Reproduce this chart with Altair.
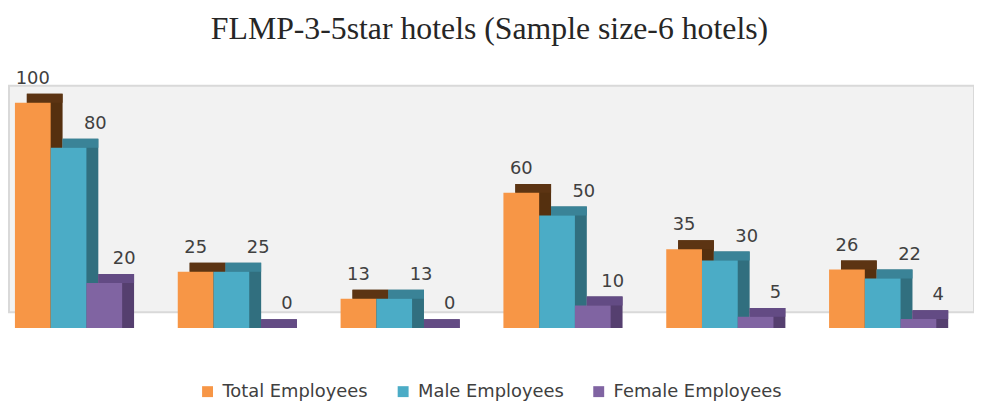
import altair as alt
import pandas as pd

groups = ["Hotel 1", "Hotel 2", "Hotel 3", "Hotel 4", "Hotel 5", "Hotel 6"]
series = ["Total Employees", "Male Employees", "Female Employees"]
total = [100, 25, 13, 60, 35, 26]
male = [80, 25, 13, 50, 30, 22]
female = [20, 0, 0, 10, 5, 4]
front_colors = ["#F79646", "#4BACC6", "#8064A2"]
top_colors = ["#5C3413", "#3A8397", "#634B84"]
side_colors = ["#55300F", "#316F7F", "#553F6F"]
label_dx = [0, 27, 20]

rows = []
for si, (s, vals) in enumerate(zip(series, [total, male, female])):
    for g, v in zip(groups, vals):
        rows.append({"group": g, "series": s, "value": v,
                     "top": top_colors[si], "side": side_colors[si]})
df = pd.DataFrame(rows)

FONT = "DejaVu Sans"
BAND = 108
DEPTH_X = 12
DEPTH_Y = 9
SHIFT = 16

x_enc = alt.X("group:N", sort=groups, axis=None,
              scale=alt.Scale(paddingInner=0.3415, paddingOuter=0.134, align=0.136))
xo_front = alt.XOffset("series:N", sort=series,
                       scale=alt.Scale(domain=series, range=[0, BAND],
                                       paddingInner=0, paddingOuter=0))
xo_back = alt.XOffset("series:N", sort=series,
                      scale=alt.Scale(domain=series, range=[DEPTH_X, BAND + DEPTH_X],
                                      paddingInner=0, paddingOuter=0))
y_scale = alt.Scale(domain=[0, 100.4], nice=False, zero=True)
y_enc = alt.Y("value:Q", scale=y_scale, axis=None, stack=None)

base = alt.Chart(df)

side = base.mark_bar(yOffset=SHIFT - DEPTH_Y, y2Offset=SHIFT, strokeWidth=0).encode(
    x=x_enc, xOffset=xo_back, y=y_enc, y2=alt.datum(0),
    color=alt.Color("side:N", scale=None, legend=None),
)

top = base.mark_bar(yOffset=SHIFT - DEPTH_Y, y2Offset=SHIFT, strokeWidth=0).encode(
    x=x_enc, xOffset=xo_back, y=y_enc, y2=alt.Y2("value:Q"),
    color=alt.Color("top:N", scale=None, legend=None),
)

back = alt.layer(side, top)

front = base.mark_bar(yOffset=SHIFT, y2Offset=SHIFT, strokeWidth=0).encode(
    x=x_enc, xOffset=xo_front, y=y_enc, y2=alt.datum(0),
    color=alt.Color("series:N", sort=series,
                    scale=alt.Scale(domain=series, range=front_colors),
                    legend=alt.Legend(
                        title=None, orient="none", direction="horizontal",
                        legendX=191, legendY=299, symbolType="square",
                        symbolSize=121, symbolStrokeWidth=0, labelFont=FONT,
                        labelFontSize=18, labelColor="#404040", labelOffset=6,
                        columnPadding=26, padding=0, labelLimit=300)),
)

labels = []
for s, dx in zip(series, label_dx):
    labels.append(
        base.transform_filter(alt.datum.series == s).mark_text(
            font=FONT, fontSize=18, color="#404040", baseline="middle",
            align="center", dx=dx, yOffset=SHIFT - 24,
        ).encode(x=x_enc, xOffset=xo_front, y=y_enc, text=alt.Text("value:Q"))
    )
front_layer = alt.layer(front, *labels)

chart = alt.layer(back, front_layer).resolve_scale(
    color="independent", xOffset="independent"
).properties(
    width=972, height=228,
    padding={"left": 1, "top": 77, "right": 0, "bottom": 88},
    autosize=alt.AutoSizeParams(type="none"),
    title=alt.TitleParams(
        "FLMP-3-5star hotels (Sample size-6 hotels)", font="Liberation Serif",
        fontSize=32, fontWeight="normal", color="#262626", anchor="middle",
        frame="group", offset=24, dx=-2),
).configure_view(fill="#F2F2F2", stroke="#D9D9D9", strokeWidth=2)

chart.save("out.html", embed_options={"renderer": "svg", "actions": False})
